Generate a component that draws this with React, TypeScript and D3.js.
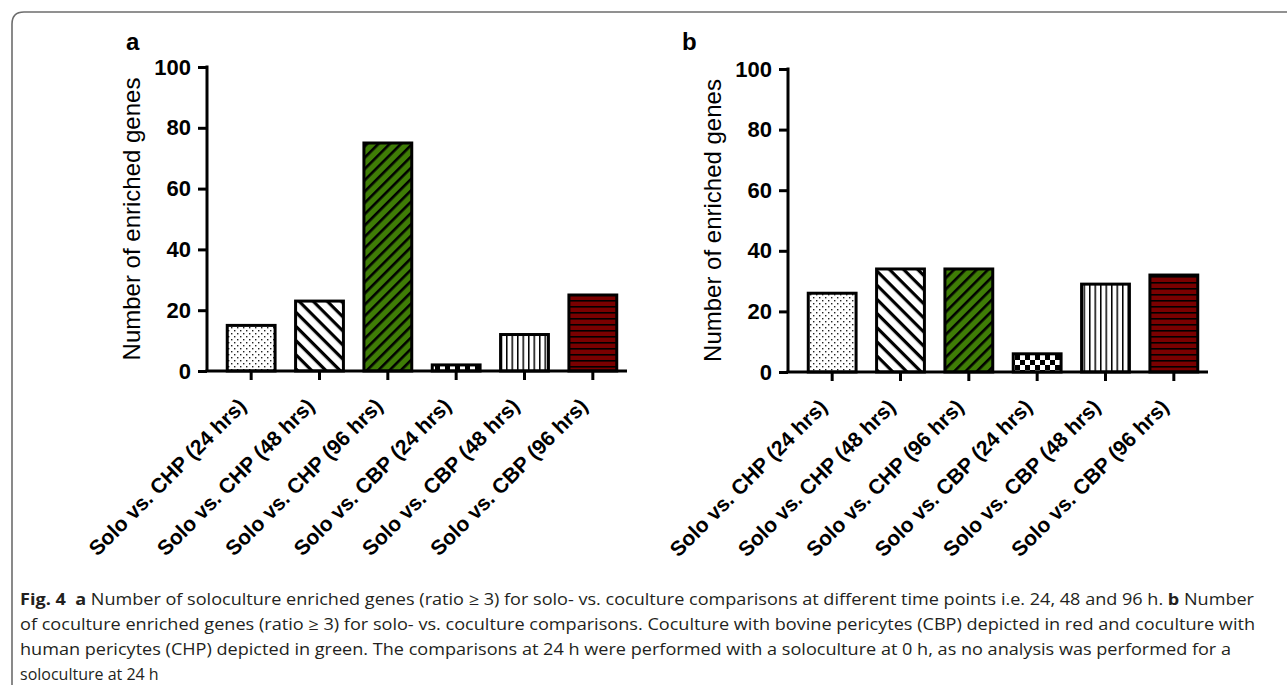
import React, { useRef, useEffect } from 'react';
import * as d3 from 'd3';

// data
const categories = [
  'Solo vs. CHP (24 hrs)',
  'Solo vs. CHP (48 hrs)',
  'Solo vs. CHP (96 hrs)',
  'Solo vs. CBP (24 hrs)',
  'Solo vs. CBP (48 hrs)',
  'Solo vs. CBP (96 hrs)',
];
const valuesA = [15, 23, 75, 2, 12, 25];
const valuesB = [26, 34, 34, 6, 29, 32];
const yTicks = [0, 20, 40, 60, 80, 100];
const patternIds = ['pDots', 'pBack', 'pGreen', 'pCheck', 'pVert', 'pRed'];

const captionLines = [
  [
    { t: 'Fig. 4', b: true },
    { t: '\u00a0\u00a0', b: false },
    { t: 'a', b: true },
    { t: ' Number of soloculture enriched genes (ratio\u00a0≥\u00a03) for solo- vs. coculture comparisons at different time points i.e. 24, 48 and 96 h. ', b: false },
    { t: 'b', b: true },
    { t: ' Number', b: false },
  ],
  [{ t: 'of coculture enriched genes (ratio\u00a0≥\u00a03) for solo- vs. coculture comparisons. Coculture with bovine pericytes (CBP) depicted in red and coculture with', b: false }],
  [{ t: 'human pericytes (CHP) depicted in green. The comparisons at 24 h were performed with a soloculture at 0 h, as no analysis was performed for a', b: false }],
  [{ t: 'soloculture at 24 h', b: false }],
];
const captionWidths = [1234, 1235, 1211, null];

const W = 1287;
const H = 685;
const FONT = 'Liberation Sans, Arial, sans-serif';

function App() {
  const ref = useRef<SVGSVGElement>(null);

  useEffect(() => {
    const svg = d3.select(ref.current);
    svg.selectAll('*').remove();

    // patterns
    const defs = svg.append('defs');
    const dots = defs.append('pattern').attr('id', 'pDots').attr('patternUnits', 'userSpaceOnUse')
      .attr('width', 6).attr('height', 6);
    dots.append('rect').attr('width', 6).attr('height', 6).attr('fill', '#fff');
    dots.append('rect').attr('x', 0).attr('y', 0).attr('width', 1.4).attr('height', 1.4).attr('fill', '#222');
    dots.append('rect').attr('x', 3).attr('y', 3).attr('width', 1.4).attr('height', 1.4).attr('fill', '#222');

    const back = defs.append('pattern').attr('id', 'pBack').attr('patternUnits', 'userSpaceOnUse')
      .attr('width', 10).attr('height', 10).attr('patternTransform', 'rotate(45)');
    back.append('rect').attr('width', 10).attr('height', 10).attr('fill', '#fff');
    back.append('rect').attr('x', 0).attr('y', 0).attr('width', 10).attr('height', 3.2).attr('fill', '#000');

    const green = defs.append('pattern').attr('id', 'pGreen').attr('patternUnits', 'userSpaceOnUse')
      .attr('width', 8).attr('height', 8).attr('patternTransform', 'rotate(-45)');
    green.append('rect').attr('width', 8).attr('height', 8).attr('fill', '#3f7d06');
    green.append('rect').attr('x', 0).attr('y', 0).attr('width', 8).attr('height', 2.6).attr('fill', '#000');

    const check = defs.append('pattern').attr('id', 'pCheck').attr('patternUnits', 'userSpaceOnUse')
      .attr('width', 10).attr('height', 10);
    check.append('rect').attr('width', 10).attr('height', 10).attr('fill', '#fff');
    check.append('rect').attr('x', 0).attr('y', 0).attr('width', 5).attr('height', 5).attr('fill', '#000');
    check.append('rect').attr('x', 5).attr('y', 5).attr('width', 5).attr('height', 5).attr('fill', '#000');

    const vert = defs.append('pattern').attr('id', 'pVert').attr('patternUnits', 'userSpaceOnUse')
      .attr('width', 5.5).attr('height', 10);
    vert.append('rect').attr('width', 5.5).attr('height', 10).attr('fill', '#fff');
    vert.append('rect').attr('x', 0).attr('y', 0).attr('width', 1.5).attr('height', 10).attr('fill', '#000');

    const red = defs.append('pattern').attr('id', 'pRed').attr('patternUnits', 'userSpaceOnUse')
      .attr('width', 10).attr('height', 6);
    red.append('rect').attr('width', 10).attr('height', 6).attr('fill', '#7a0000');
    red.append('rect').attr('x', 0).attr('y', 0).attr('width', 10).attr('height', 1.6).attr('fill', '#000');

    // frame
    svg.append('path')
      .attr('d', 'M12,690 L12,24 Q12,12 24,12 L1290,12')
      .attr('fill', 'none').attr('stroke', '#6d6d6d').attr('stroke-width', 1.6);

    const drawPanel = (values: number[], axisX: number, y0: number, y100: number, label: string, labelX: number, titleX: number) => {
      const g = svg.append('g');
      const y = d3.scaleLinear().domain([0, 100]).range([y0, y100]);
      const x = d3.scaleBand<string>().domain(categories).range([axisX + 10, axisX + 420]).paddingInner(0.3).paddingOuter(0.15);

      g.selectAll('rect.bar').data(values).enter().append('rect')
        .attr('class', 'bar')
        .attr('x', (_d, i) => x(categories[i]) as number)
        .attr('width', x.bandwidth())
        .attr('y', d => y(d))
        .attr('height', d => y(0) - y(d))
        .attr('fill', (_d, i) => `url(#${patternIds[i]})`)
        .attr('stroke', '#000').attr('stroke-width', 3);

      // y axis
      const ya = g.append('g').attr('transform', `translate(${axisX},0)`)
        .call(d3.axisLeft(y).tickValues(yTicks).tickSize(9).tickPadding(7));
      ya.select('.domain').attr('d', `M0,${y100 - 1.5}V${y0}`).attr('stroke-width', 3);
      ya.selectAll('line').attr('stroke-width', 3);
      ya.selectAll('text').attr('font-family', FONT).attr('font-weight', 'bold').attr('font-size', 22).attr('fill', '#000');

      // x axis
      const xa = g.append('g').attr('transform', `translate(0,${y0})`)
        .call(d3.axisBottom(x).tickSize(9).tickSizeOuter(0).tickPadding(10));
      xa.select('.domain').attr('d', `M${axisX - 1.5},0H${axisX + 420}`).attr('stroke-width', 3);
      xa.selectAll('line').attr('stroke-width', 3);
      xa.selectAll('text')
        .attr('font-family', FONT).attr('font-weight', 'bold').attr('font-size', 21).attr('fill', '#000')
        .attr('text-anchor', 'end').attr('dy', '0.35em')
        .attr('transform', 'translate(-9,31) rotate(-45)')
        .attr('x', 0).attr('y', 0);

      g.append('text').attr('x', labelX).attr('y', 50)
        .attr('font-family', FONT).attr('font-weight', 'bold').attr('font-size', 24).text(label);

      g.append('text')
        .attr('transform', `translate(${titleX},${(y0 + y100) / 2}) rotate(-90)`)
        .attr('text-anchor', 'middle')
        .attr('font-family', FONT).attr('font-size', 24).text('Number of enriched genes');
    };

    drawPanel(valuesA, 207, 371, 67, 'a', 126, 140);
    drawPanel(valuesB, 788, 372, 69, 'b', 682, 721);

    // caption
    const cap = svg.append('g');
    captionLines.forEach((line, i) => {
      const t = cap.append('text').attr('x', 20).attr('y', 605 + i * 25)
        .attr('font-family', 'Open Sans, Noto Sans, sans-serif').attr('font-size', 16).attr('fill', '#231f20');
      if (captionWidths[i]) t.attr('textLength', captionWidths[i] as number).attr('lengthAdjust', 'spacingAndGlyphs');
      line.forEach(p => {
        t.append('tspan').attr('font-weight', p.b ? 'bold' : 'normal').text(p.t);
      });
    });
  }, []);

  return (
    <svg ref={ref} width={W} height={H} style={{ display: 'block', position: 'absolute', left: 0, top: 0, background: '#fff' }} />
  );
}

export default App;
